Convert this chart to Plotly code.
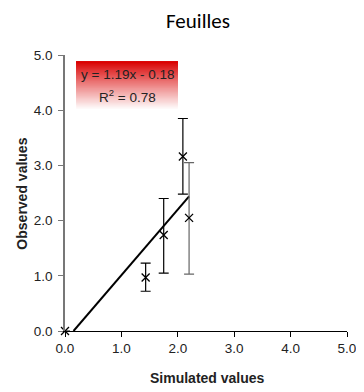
import plotly.graph_objects as go

# Data
sim = [0.0, 1.43, 1.75, 2.09, 2.20]
obs = [0.0, 0.97, 1.74, 3.16, 2.05]
err_plus = [0.0, 0.26, 0.66, 0.69, 1.00]
err_minus = [0.0, 0.25, 0.69, 0.68, 1.02]
slope, intercept, r2 = 1.19, -0.18, 0.78
tick_vals = [0, 1, 2, 3, 4, 5]
tick_text = ["0.0", "1.0", "2.0", "3.0", "4.0", "5.0"]

# page body has an 8px default margin; compensate
OFF = 8
W, H = 364 - OFF, 392 - OFF
L, T = 64.5 - OFF, 54.5 - OFF
R = W - (346.7 - OFF)
B = H - (330.7 - OFF)
pw, ph = W - L - R, H - T - B


def px(xpix):
    return (xpix - OFF - L) / pw


def py(ypix):
    return (H - B - (ypix - OFF)) / ph


fig = go.Figure()

# trend line
x_start = max(0.0, -intercept / slope)
x_end = max(sim)
fig.add_trace(go.Scatter(x=[x_start, x_end], y=[slope * x_start + intercept, slope * x_end + intercept],
                         mode="lines", line=dict(color="black", width=2), showlegend=False,
                         hoverinfo="skip", cliponaxis=False))

# points with black error bars
fig.add_trace(go.Scatter(x=sim[:4], y=obs[:4], mode="markers", cliponaxis=False,
                         marker=dict(symbol="x-thin-open", size=8, color="black",
                                     line=dict(width=1.3, color="black")),
                         error_y=dict(type="data", array=err_plus[:4], arrayminus=err_minus[:4],
                                      color="black", thickness=1.2, width=5),
                         showlegend=False))
# last point with grey error bar
fig.add_trace(go.Scatter(x=sim[4:], y=obs[4:], mode="markers", cliponaxis=False,
                         marker=dict(symbol="x-thin-open", size=8, color="black",
                                     line=dict(width=1.3, color="black")),
                         error_y=dict(type="data", array=err_plus[4:], arrayminus=err_minus[4:],
                                      color="#666666", thickness=1.2, width=5),
                         showlegend=False))

# gradient box (red to white), overlapping rects to avoid seams
shapes = []
n = 40
x0, x1 = 0.20, 2.0
ytop, ybot = 4.88, 4.0
for i in range(n, 0, -1):
    t = (i - 1) / (n - 1)
    f = min(1.0, t ** 0.9)
    r = 218 + (255 - 218) * f
    g = 0 + 255 * f
    b = 0 + 255 * f
    ya = ytop - (ytop - ybot) * i / n
    shapes.append(dict(type="rect", xref="x", yref="y", x0=x0, x1=x1, y0=ya, y1=ytop,
                       fillcolor=f"rgb({int(r)},{int(g)},{int(b)})", line=dict(width=0),
                       layer="below"))

axis_font = dict(family="Liberation Sans", size=13.5, color="#222")
fig.update_layout(
    width=W, height=H,
    margin=dict(l=L, r=R, t=T, b=B, autoexpand=False),
    paper_bgcolor="white", plot_bgcolor="white",
    shapes=shapes,
    xaxis=dict(range=[0, 5], tickvals=tick_vals, ticktext=tick_text, showgrid=False, zeroline=False,
               showline=True, linecolor="black", linewidth=1.2, ticks="outside", ticklen=5,
               tickcolor="black", tickfont=axis_font, automargin=False),
    yaxis=dict(range=[0, 5], tickvals=tick_vals, ticktext=tick_text, showgrid=False, zeroline=False,
               showline=True, linecolor="#777", linewidth=1.5, ticks="outside", ticklen=5,
               tickcolor="#777", tickfont=axis_font, automargin=False, ticklabelstandoff=3),
    annotations=[
        dict(x=px(198), y=py(20), xref="paper", yref="paper", showarrow=False, text="Feuilles",
             xanchor="center", yanchor="middle", borderpad=0,
             font=dict(family="Carlito, Lato", size=21, color="black")),
        dict(x=px(206.7), y=py(378), xref="paper", yref="paper", showarrow=False,
             text="<b>Simulated values</b>", xanchor="center", yanchor="middle",
             font=dict(family="Liberation Sans", size=14, color="#222")),
        dict(x=px(21.7), y=py(193), xref="paper", yref="paper", showarrow=False,
             text="<b>Observed values</b>", xanchor="center", yanchor="middle", textangle=-90,
             font=dict(family="Liberation Sans", size=14, color="#222")),
        dict(x=(x0 + x1) / 2, y=4.65, xref="x", yref="y", showarrow=False,
             text=f"y = {slope:.2f}x - {abs(intercept):.2f}",
             font=dict(family="Liberation Sans", size=13.5, color="#222")),
        dict(x=(x0 + x1) / 2, y=4.25, xref="x", yref="y", showarrow=False,
             text=f"R<sup>2</sup> = {r2:.2f}",
             font=dict(family="Liberation Sans", size=13.5, color="#222")),
    ],
)

fig.write_html("out.html")
